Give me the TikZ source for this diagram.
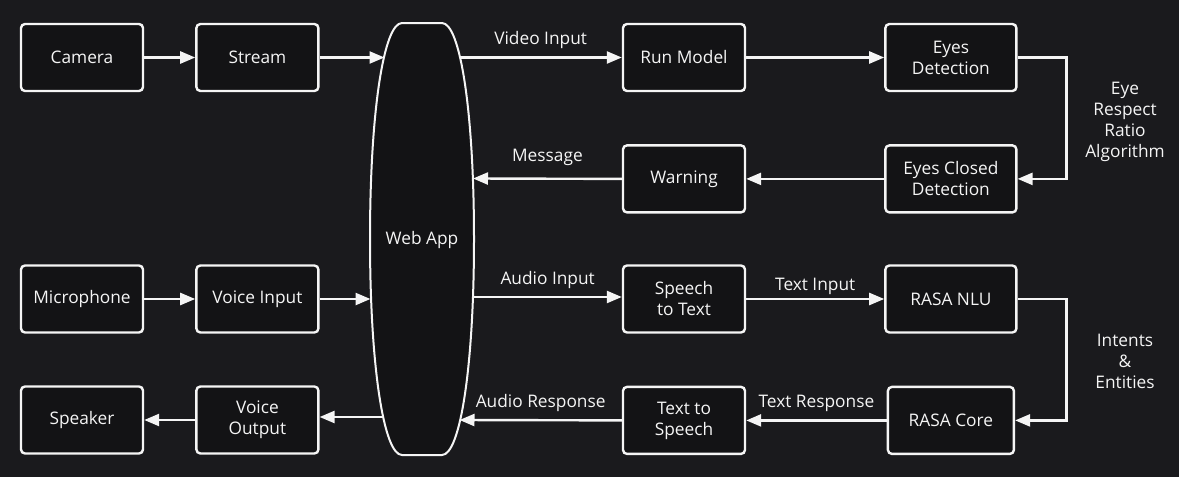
\documentclass[tikz,border=0pt]{standalone}
\usepackage{fontspec}
\setmainfont{Open Sans}
\usetikzlibrary{arrows.meta,positioning,calc}
\definecolor{bgdark}{RGB}{26,26,29}
\definecolor{boxfill}{RGB}{19,19,21}
\definecolor{linewhite}{RGB}{245,245,245}

\tikzset{
  box/.style={draw=linewhite, rectangle, rounded corners=4pt, line width=2.4pt, fill=boxfill, text=linewhite, minimum width=122pt, minimum height=67pt, align=center, font=\fontsize{17.3}{21}\selectfont},
  widebox/.style={box, minimum width=131pt},
  corebox/.style={box, minimum width=126pt},
  arr/.style={draw=linewhite, line width=2.4pt, -{Triangle[length=15pt,width=12pt]}},
  lbl/.style={midway, above=4pt, text=linewhite, font=\fontsize{17.3}{21}\selectfont},
  sidetxt/.style={align=center, text=linewhite, font=\fontsize{17.3}{21}\selectfont}
}

\begin{document}
\begin{tikzpicture}[x=1pt, y=-1pt]
    \fill[bgdark] (0,0) rectangle (1179,477);
    \useasboundingbox (0,0) rectangle (1179,477);

    % left column
    \node[box] (cam) at (82,57.5) {Camera};
    \node[box, right=51pt of cam] (stream) {Stream};
    \node[box] (mic) at (82,299) {Microphone};
    \node[box, right=51pt of mic] (vin) {Voice Input};
    \node[box] (spk) at (82,420) {Speaker};
    \node[box, right=51pt of spk] (vout) {Voice\\Output};

    % web app
    \draw[linewhite, line width=2pt, fill=boxfill] (442,23) .. controls (460,23) and (474,110) .. (474,239)
        .. controls (474,368) and (460,455) .. (442,455) -- (402,455)
        .. controls (384,455) and (370,368) .. (370,239)
        .. controls (370,110) and (384,23) .. (402,23) -- cycle;
    \node[sidetxt] (web) at (422,240) {Web App};
    \coordinate (webStream) at (384.5,57.5);
    \coordinate (webVoice) at (370.5,299);
    \coordinate (webOut) at (384,417);
    \coordinate (webVideo) at (459.5,57.5);
    \coordinate (webMsg) at (473,178.5);
    \coordinate (webAudio) at (473.5,297);
    \coordinate (webResp) at (459.5,420);

    % right part
    \node[box] (run) at (684,57.5) {Run Model};
    \node[box, below=52pt of run] (warn) {Warning};
    \node[widebox, right=138pt of run] (eyes) {Eyes\\Detection};
    \node[widebox, below=52pt of eyes] (closed) {Eyes Closed\\Detection};
    \node[box] (stt) at (684,299) {Speech\\to Text};
    \node[box, below=52pt of stt] (tts) {Text to\\Speech};
    \node[widebox, right=138pt of stt] (nlu) {RASA NLU};
    \node[corebox, below=52pt of nlu] (core) {RASA Core};

    \node[sidetxt] (ear) at (1125,122) {Eye\\Respect\\Ratio\\Algorithm};
    \node[sidetxt] (intents) at (1125,361) {Intents\\\&\\Entities};

    % arrows
    \draw[arr] (cam) -- (stream);
    \draw[arr] (stream) -- (webStream);
    \draw[arr] (mic) -- (vin);
    \draw[arr] (vin) -- (webVoice);
    \draw[arr] (webOut) -- (webOut -| vout.east);
    \draw[arr] (vout) -- (spk);

    \draw[arr] (webVideo) -- (run.west) node[lbl] {Video Input};
    \draw[arr] (run) -- (eyes);
    \draw[arr] (eyes.east) -- ++(49,0) |- (closed.east);
    \draw[arr] (closed) -- (warn);
    \draw[arr] (warn.west) -- (webMsg) node[lbl, above=9pt] {Message};

    \draw[arr] (webAudio) -- (webAudio -| stt.west) node[lbl] {Audio Input};
    \draw[arr] (stt) -- (nlu) node[lbl, above=0pt] {Text Input};
    \draw[arr] (nlu.east) -- ++(49,0) |- (core.east);
    \draw[arr] (core) -- (tts) node[lbl] {Text Response};
    \draw[arr] (tts.west) -- (webResp) node[lbl] {Audio Response};
\end{tikzpicture}
\end{document}
